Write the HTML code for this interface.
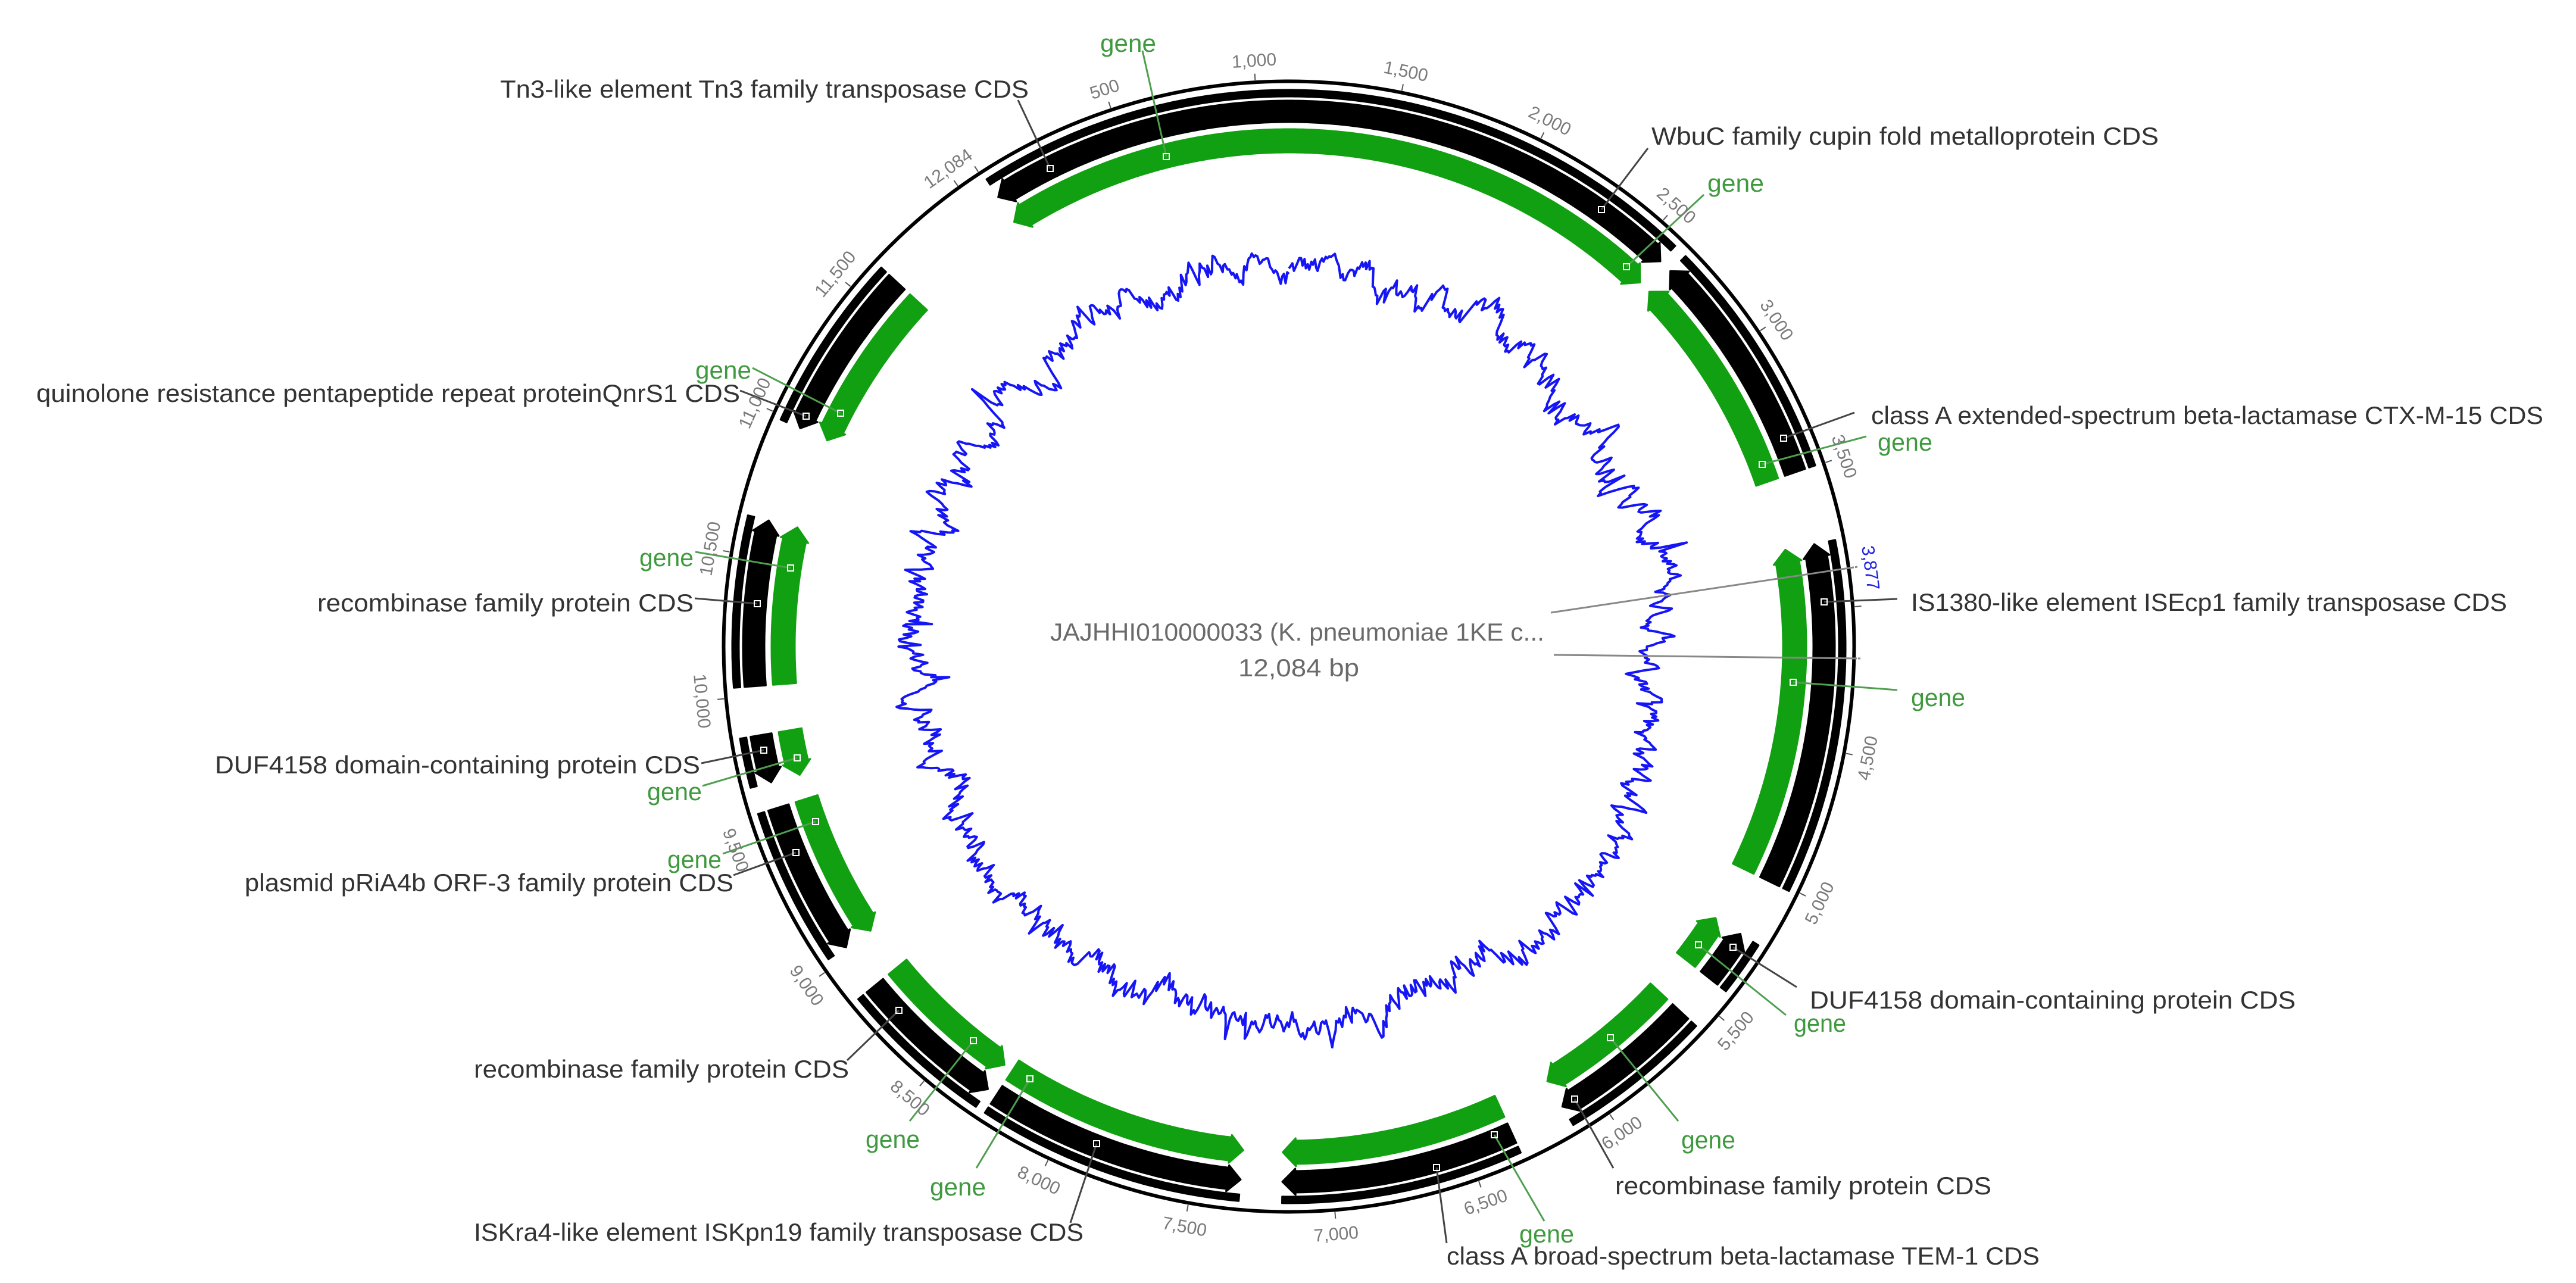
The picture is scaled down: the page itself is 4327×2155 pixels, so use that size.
<!DOCTYPE html>
<html><head><meta charset="utf-8"><style>
html,body{margin:0;padding:0;background:#fff;}
svg{display:block;}
.l{font-family:"Liberation Sans",sans-serif;font-size:42px;fill:#333;}
.g{font-family:"Liberation Sans",sans-serif;font-size:42px;fill:#3f9a3f;}
.t{font-family:"Liberation Sans",sans-serif;font-size:30px;fill:#7a7a7a;}
.c{font-family:"Liberation Sans",sans-serif;font-size:42px;fill:#6a6a6a;}
</style></head><body>
<svg id="s" width="4327" height="2155" viewBox="0 0 4327 2155" xmlns="http://www.w3.org/2000/svg">
<g id="skew"></g>
<g id="feat"></g>
<circle cx="2165" cy="1086" r="949.5" fill="none" stroke="#000" stroke-width="6"/>
<g id="ticks"></g>
<g id="lines"></g>
<g class="t" text-anchor="middle">
<text transform="translate(2165,1086) rotate(-18.3)" y="-976">500</text>
<text transform="translate(2165,1086) rotate(-3.4)" y="-976">1,000</text>
<text transform="translate(2165,1086) rotate(11.5)" y="-976">1,500</text>
<text transform="translate(2165,1086) rotate(26.4)" y="-976">2,000</text>
<text transform="translate(2165,1086) rotate(41.3)" y="-976">2,500</text>
<text transform="translate(2165,1086) rotate(56.2)" y="-976">3,000</text>
<text transform="translate(2165,1086) rotate(71.1)" y="-976">3,500</text>
<text transform="translate(2165,1086) rotate(-80.4)" y="-976">10,500</text>
<text transform="translate(2165,1086) rotate(-65.5)" y="-976">11,000</text>
<text transform="translate(2165,1086) rotate(-50.6)" y="-976">11,500</text>
<text transform="translate(2165,1086) rotate(-35.5)" y="-976">12,084</text>
<text transform="translate(2165,1086) rotate(-79.1)" y="1000">4,500</text>
<text transform="translate(2165,1086) rotate(-64.2)" y="1000">5,000</text>
<text transform="translate(2165,1086) rotate(-49.3)" y="1000">5,500</text>
<text transform="translate(2165,1086) rotate(-34.4)" y="1000">6,000</text>
<text transform="translate(2165,1086) rotate(-19.5)" y="1000">6,500</text>
<text transform="translate(2165,1086) rotate(-4.6)" y="1000">7,000</text>
<text transform="translate(2165,1086) rotate(10.2)" y="1000">7,500</text>
<text transform="translate(2165,1086) rotate(25.1)" y="1000">8,000</text>
<text transform="translate(2165,1086) rotate(40)" y="1000">8,500</text>
<text transform="translate(2165,1086) rotate(54.9)" y="1000">9,000</text>
<text transform="translate(2165,1086) rotate(69.8)" y="1000">9,500</text>
<text transform="translate(2165,1086) rotate(84.7)" y="1000">10,000</text>
<text transform="translate(2165,1086) rotate(82.3)" y="-976" style="fill:#2020e0">3,877</text>
</g>
<text class="c" x="1764" y="1076" textLength="830" lengthAdjust="spacingAndGlyphs">JAJHHI010000033 (K. pneumoniae 1KE c...</text>
<text class="c" x="2080" y="1136" textLength="203" lengthAdjust="spacingAndGlyphs">12,084 bp</text>
<text class="g" x="1848" y="87" textLength="94" lengthAdjust="spacingAndGlyphs">gene</text>
<text class="l" x="840" y="164" textLength="888" lengthAdjust="spacingAndGlyphs">Tn3-like element Tn3 family transposase CDS</text>
<text class="l" x="2774" y="243" textLength="852" lengthAdjust="spacingAndGlyphs">WbuC family cupin fold metalloprotein CDS</text>
<text class="g" x="2868" y="322" textLength="95" lengthAdjust="spacingAndGlyphs">gene</text>
<text class="l" x="3143" y="712" textLength="1129" lengthAdjust="spacingAndGlyphs">class A extended-spectrum beta-lactamase CTX-M-15 CDS</text>
<text class="g" x="3154" y="757" textLength="92" lengthAdjust="spacingAndGlyphs">gene</text>
<text class="l" x="3210" y="1026" textLength="1001" lengthAdjust="spacingAndGlyphs">IS1380-like element ISEcp1 family transposase CDS</text>
<text class="g" x="3210" y="1186" textLength="91" lengthAdjust="spacingAndGlyphs">gene</text>
<text class="l" x="3040" y="1694" textLength="816" lengthAdjust="spacingAndGlyphs">DUF4158 domain-containing protein CDS</text>
<text class="g" x="3013" y="1733" textLength="88" lengthAdjust="spacingAndGlyphs">gene</text>
<text class="g" x="2824" y="1929" textLength="91" lengthAdjust="spacingAndGlyphs">gene</text>
<text class="l" x="2713" y="2006" textLength="632" lengthAdjust="spacingAndGlyphs">recombinase family protein CDS</text>
<text class="g" x="2552" y="2087" textLength="92" lengthAdjust="spacingAndGlyphs">gene</text>
<text class="l" x="2430" y="2124" textLength="996" lengthAdjust="spacingAndGlyphs">class A broad-spectrum beta-lactamase TEM-1 CDS</text>
<text class="l" x="796" y="2084" textLength="1024" lengthAdjust="spacingAndGlyphs">ISKra4-like element ISKpn19 family transposase CDS</text>
<text class="g" x="1562" y="2008" textLength="94" lengthAdjust="spacingAndGlyphs">gene</text>
<text class="g" x="1454" y="1928" textLength="91" lengthAdjust="spacingAndGlyphs">gene</text>
<text class="l" x="796" y="1810" textLength="630" lengthAdjust="spacingAndGlyphs">recombinase family protein CDS</text>
<text class="g" x="1121" y="1458" textLength="91" lengthAdjust="spacingAndGlyphs">gene</text>
<text class="l" x="411" y="1497" textLength="821" lengthAdjust="spacingAndGlyphs">plasmid pRiA4b ORF-3 family protein CDS</text>
<text class="l" x="361" y="1299" textLength="815" lengthAdjust="spacingAndGlyphs">DUF4158 domain-containing protein CDS</text>
<text class="g" x="1087" y="1344" textLength="92" lengthAdjust="spacingAndGlyphs">gene</text>
<text class="g" x="1074" y="951" textLength="91" lengthAdjust="spacingAndGlyphs">gene</text>
<text class="l" x="533" y="1027" textLength="632" lengthAdjust="spacingAndGlyphs">recombinase family protein CDS</text>
<text class="g" x="1168" y="636" textLength="94" lengthAdjust="spacingAndGlyphs">gene</text>
<text class="l" x="61" y="675" textLength="1182" lengthAdjust="spacingAndGlyphs">quinolone resistance pentapeptide repeat proteinQnrS1 CDS</text>
</svg>
<script>
(function(){
var NS="http://www.w3.org/2000/svg",CX=2165,CY=1086,K=360/12084,OFF=-33.2;
function ang(p){return p*K+OFF;}
function pt(a,r){var t=a*Math.PI/180;return [CX+r*Math.sin(t),CY-r*Math.cos(t)];}
function el(g,n,at){var e=document.createElementNS(NS,n);for(var k in at)e.setAttribute(k,at[k]);document.getElementById(g).appendChild(e);return e;}
function arc(a1,a2,r){var o=[],n=Math.max(2,Math.ceil(Math.abs(a2-a1)*3));for(var i=0;i<=n;i++)o.push(pt(a1+(a2-a1)*i/n,r));return o;}
function arrow(p1,p2,r0,r1,dir,fill){
 var s=ang(p1),e=ang(p2),mid=(r0+r1)/2,h=22/mid*180/Math.PI,bs=s,be=e,f=4;
 if(dir>0)be=e-h; if(dir<0)bs=s+h;
 var P=arc(bs,be,r1);
 if(dir>0){P.push(pt(be,r1+f),pt(e,mid),pt(be,r0-f));}
 P=P.concat(arc(be,bs,r0));
 if(dir<0){P.push(pt(bs,r0-f),pt(s,mid),pt(bs,r1+f));}
 el("feat","polygon",{points:P.map(function(q){return q[0].toFixed(1)+","+q[1].toFixed(1)}).join(" "),fill:fill,stroke:fill,"stroke-width":3,"stroke-linejoin":"round"});
}
var F=[[10,2229,-1],[2229,2590,1],[2640,3498,-1],[3765,5010,-1],[5225,5420,-1],[5578,6125,1],[6330,7180,1],[7330,8268,-1],[8305,8858,-1],[9030,9590,-1],[9684,9858,-1],[10035,10635,1],[10985,11618,-1]];
F.forEach(function(f){
 arrow(f[0],f[1],924,935,0,"#000");
 arrow(f[0],f[1],881,917,f[2],"#000");
 arrow(f[0],f[1],830,869,f[2],"#11a011");
});
for(var p=0;p<12084;p+=500){var a=pt(ang(p),953),b=pt(ang(p),964);el("ticks","line",{x1:a[0],y1:a[1],x2:b[0],y2:b[1],stroke:"#555","stroke-width":2});}
var G="#4f9f4f",D="#444";
var L=[[1710,168,1764,283,D],[1919,85,1959,263,G],[2768,249,2690,352,D],[2862,327,2732,448,G],[3115,693,2996,736,D],[3135,733,2960,780,G],
[3187,1006,3064,1011,D],[3187,1159,3012,1146,G],[3018,1658,2911,1591,D],[3000,1705,2853,1587,G],[2819,1883,2705,1743,G],[2710,1962,2645,1846,D],
[2430,2088,2413,1961,D],[2594,2051,2510,1906,G],[1798,2054,1842,1921,D],[1640,1962,1730,1812,G],[1528,1883,1635,1748,G],[1423,1781,1510,1697,D],
[1232,1470,1337,1432,D],[1214,1434,1370,1380,G],[1178,1282,1283,1260,D],[1180,1320,1339,1273,G],[1167,1005,1272,1014,D],[1168,927,1328,954,G],
[1243,656,1354,699,D],[1264,618,1412,694,G],[2605,1029,3120,952,"#888"],[2610,1100,3125,1106,"#888"]];
L.forEach(function(l){el("lines","line",{x1:l[0],y1:l[1],x2:l[2],y2:l[3],stroke:l[4],"stroke-width":3});
 el("lines","rect",{x:l[2]-5,y:l[3]-5,width:10,height:10,fill:"none",stroke:"#fff","stroke-width":2});});
var seed=12345;function rnd(){seed=(seed*1103515245+12345)%2147483648;return seed/2147483648;}
var N=1400,v=0,pts=[];
for(var i=0;i<=N;i++){v=v*0.88+(rnd()-0.5)*22;var sp=(rnd()<0.015)?(rnd()-0.5)*70:0;
 var r=630+v*1.5+sp;var q=pt(i/N*360,r);pts.push(q[0].toFixed(1)+","+q[1].toFixed(1));}
el("skew","polyline",{points:pts.join(" "),fill:"none",stroke:"#1515f5","stroke-width":4,"stroke-linejoin":"round"});
})();
</script>
</body></html>
